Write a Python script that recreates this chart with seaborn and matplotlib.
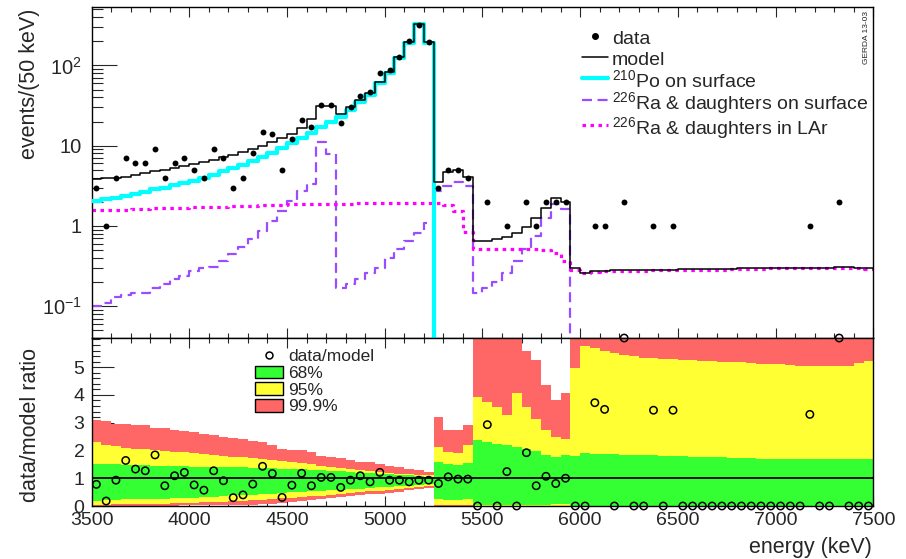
import numpy as np
import matplotlib
matplotlib.use('Agg')
import matplotlib.pyplot as plt
from matplotlib.lines import Line2D
from matplotlib.patches import Patch
from matplotlib.ticker import MultipleLocator, LogLocator, NullFormatter
import seaborn as sns

# 50 keV bins from 3500 to 7500 keV
edges = np.arange(3500, 7550, 50)
centers = edges[:-1] + 25

# events per bin (data)
data_counts = np.array([3, 1, 4, 7, 6, 6, 9, 4, 6, 7,
                        5, 4, 9, 7, 3, 4, 8, 15, 14, 5,
                        12, 21, 17, 32, 32, 19, 30, 42, 46, 80,
                        87, 127, 199, 320, 195, 3, 5, 5, 4, 0,
                        2, 0, 1, 0, 2, 1, 2, 2, 2, 0,
                        0, 1, 1, 0, 2, 0, 0, 1, 0, 1,
                        0, 0, 0, 0, 0, 0, 0, 0, 0, 0,
                        0, 0, 0, 1, 0, 0, 2, 0, 0, 0])

model = np.array([3.8, 3.9, 4.0, 4.1, 4.3, 4.5, 4.8, 5.0, 5.2, 5.5,
                  5.9, 6.2, 6.7, 7.2, 7.7, 8.3, 9.0, 10.0, 11.0, 12.3,
                  14.0, 16.5, 21.5, 31.6, 31.6, 25, 30, 37.6, 45.7, 63,
                  83, 127, 197, 330, 195, 3.55, 4.63, 4.97, 4.02, 0.64,
                  0.65, 0.68, 0.73, 0.82, 0.97, 1.27, 1.66, 2.22, 1.99, 0.30,
                  0.26, 0.27, 0.27, 0.28, 0.28, 0.28, 0.28, 0.285, 0.285, 0.285,
                  0.29, 0.29, 0.29, 0.29, 0.29, 0.29, 0.295, 0.295, 0.295, 0.3,
                  0.3, 0.3, 0.3, 0.3, 0.3, 0.3, 0.305, 0.305, 0.3, 0.295])

po_surface = np.array([2.05, 2.15, 2.25, 2.37, 2.5, 2.65, 2.85, 3.0, 3.2, 3.4,
                       3.65, 3.95, 4.3, 4.8, 5.3, 5.8, 6.5, 7.3, 8.2, 9.3,
                       10.8, 12.5, 14.5, 17, 20, 23, 28, 35, 43, 60,
                       80, 124, 193, 325, 192] + [0.0] * 45)

ra_surface = np.array([0.10, 0.11, 0.13, 0.137, 0.147, 0.147, 0.17, 0.187, 0.216, 0.237,
                       0.27, 0.30, 0.31, 0.365, 0.44, 0.54, 0.68, 0.87, 1.15, 1.54,
                       2.05, 2.74, 3.3, 11, 7.9, 0.17, 0.187, 0.22, 0.26, 0.30,
                       0.40, 0.51, 0.65, 0.82, 1.1, 2.74, 3.16, 3.55, 3.16, 0.147,
                       0.17, 0.2, 0.26, 0.365, 0.51, 0.75, 1.27, 1.87, 1.62] + [0.0] * 31)

ra_lar = np.array([1.57, 1.6, 1.6, 1.6, 1.62, 1.63, 1.65, 1.65, 1.67, 1.68,
                   1.7, 1.7, 1.72, 1.73, 1.75, 1.77, 1.78, 1.8, 1.82, 1.83,
                   1.85, 1.86, 1.87, 1.88, 1.89, 1.9, 1.9, 1.91, 1.92, 1.93,
                   1.93, 1.94, 1.94, 1.95, 1.95, 1.95, 1.83, 1.54, 0.85, 0.51,
                   0.51, 0.51, 0.51, 0.51, 0.51, 0.51, 0.5, 0.46, 0.37, 0.28,
                   0.26, 0.265, 0.27, 0.27, 0.275, 0.275, 0.275, 0.28, 0.28, 0.28,
                   0.28, 0.285, 0.285, 0.285, 0.285, 0.29, 0.29, 0.29, 0.29, 0.295,
                   0.295, 0.295, 0.295, 0.295, 0.3, 0.3, 0.3, 0.3, 0.295, 0.29])

# data/model ratio (points above 6 sit on the frame edge)
ratio = np.array([0.78, 0.18, 0.93, 1.64, 1.33, 1.27, 1.84, 0.73, 1.09, 1.21,
                  0.76, 0.57, 1.27, 0.91, 0.30, 0.40, 0.79, 1.43, 1.17, 0.31,
                  0.75, 1.18, 0.73, 1.03, 1.03, 0.67, 0.93, 1.09, 0.87, 1.21,
                  0.93, 0.93, 0.87, 0.93, 0.93, 0.81, 1.05, 0.97, 0.97, 0,
                  2.93, 0, 1.24, 0, 1.92, 0.73, 1.07, 0.81, 1.0, 0,
                  0, 3.72, 3.48, 0, 6.05, 0, 0, 3.45, 0, 3.45,
                  0, 0, 0, 0, 0, 0, 0, 0, 0, 0,
                  0, 0, 0, 3.3, 0, 0, 6.05, 0, 0, 0])

# probability bands for the ratio
red_hi = np.array([3.1, 3.05, 2.95, 2.95, 2.9, 2.9, 2.8, 2.8, 2.75, 2.7,
                   2.65, 2.6, 2.55, 2.5, 2.45, 2.4, 2.35, 2.3, 2.2, 2.06,
                   2.02, 2.0, 1.95, 1.8, 1.76, 1.72, 1.65, 1.6, 1.58, 1.52,
                   1.45, 1.4, 1.35, 1.28, 1.22,
                   3.2, 2.75, 2.75, 2.9,
                   6.2, 6.2, 6.2, 6.2, 6.2, 5.58, 5.27, 4.36, 3.82, 4.06] + [6.2] * 31)
yel_hi = np.array([2.3, 2.2, 2.15, 2.1, 2.07, 2.05, 2.0, 1.98, 1.95, 1.93,
                   1.9, 1.87, 1.84, 1.8, 1.77, 1.75, 1.72, 1.68, 1.65, 1.63,
                   1.6, 1.55, 1.5, 1.45, 1.42, 1.38, 1.35, 1.3, 1.27, 1.24,
                   1.2, 1.17, 1.15, 1.12, 1.1,
                   2.12, 1.95, 1.9, 2.2,
                   3.94, 3.76, 3.55, 3.27, 4.06, 3.55, 3.15, 2.73, 2.48, 2.4,
                   4.97, 5.78, 5.7, 5.58, 5.52, 5.45, 5.42, 5.33, 5.33, 5.3,
                   5.3, 5.27, 5.27, 5.24, 5.24, 5.2, 5.2, 5.18, 5.15, 5.12,
                   5.1, 5.1, 5.09, 5.06, 5.03, 5.03, 5.03, 5.03, 5.06, 5.15, 5.21])
grn_hi = np.array([1.52, 1.5, 1.5, 1.48, 1.47, 1.46, 1.45, 1.45, 1.44, 1.43,
                   1.42, 1.42, 1.41, 1.4, 1.4, 1.39, 1.38, 1.37, 1.36, 1.35,
                   1.34, 1.32, 1.3, 1.28, 1.27, 1.25, 1.23, 1.2, 1.18, 1.16,
                   1.14, 1.12, 1.1, 1.08, 1.06,
                   1.58, 1.52, 1.48, 1.55,
                   2.36, 2.3, 2.24, 2.18, 2.12, 2.06, 1.97, 1.85, 1.76, 1.85,
                   1.8, 1.9, 1.88, 1.87, 1.86, 1.85, 1.84, 1.83, 1.82, 1.81,
                   1.8, 1.79, 1.78, 1.77, 1.76, 1.75, 1.74, 1.73, 1.72, 1.71,
                   1.71, 1.7, 1.7, 1.7, 1.7, 1.7, 1.7, 1.7, 1.7, 1.7, 1.7])
grn_lo = np.array([0.18, 0.2, 0.22, 0.24, 0.24, 0.25, 0.26, 0.27, 0.28, 0.29,
                   0.3, 0.32, 0.34, 0.36, 0.38, 0.39, 0.4, 0.42, 0.45, 0.48,
                   0.5, 0.52, 0.54, 0.55, 0.57, 0.59, 0.61, 0.63, 0.65, 0.67,
                   0.69, 0.71, 0.73, 0.76, 0.79,
                   0.24, 0.2, 0.2, 0.24,
                   0.02, 0.02, 0.02, 0.02, 0.02, 0.02, 0.02, 0.02, 0.06, 0.06] + [0.0] * 31)
yel_lo = np.array([0.05, 0.05, 0.06, 0.06, 0.07, 0.07, 0.08, 0.09, 0.1, 0.11,
                   0.12, 0.13, 0.14, 0.15, 0.17, 0.18, 0.2, 0.22, 0.24, 0.28,
                   0.3, 0.33, 0.35, 0.37, 0.4, 0.44, 0.48, 0.5, 0.53, 0.55,
                   0.58, 0.61, 0.64, 0.67, 0.72,
                   0.03, 0.02, 0.02, 0.03] + [0.0] * 41)
red_lo = np.array([0, 0, 0, 0, 0, 0, 0, 0, 0, 0.02,
                   0.02, 0.03, 0.03, 0.03, 0.04, 0.04, 0.05, 0.06, 0.08, 0.12,
                   0.15, 0.18, 0.21, 0.24, 0.28, 0.32, 0.36, 0.39, 0.42, 0.45,
                   0.48, 0.52, 0.56, 0.6, 0.65] + [0.0] * 45)

c_po = '#00ffff'
c_rasurf = '#9a4dff'
c_lar = '#ff00ff'
c_green = '#33ff33'
c_yellow = '#ffff33'
c_red = '#ff6666'

sns.set_style('ticks')
plt.rcParams['font.family'] = ['Liberation Sans', 'DejaVu Sans']
plt.rcParams['mathtext.fontset'] = 'custom'
plt.rcParams['mathtext.rm'] = 'Liberation Sans'
plt.rcParams['mathtext.it'] = 'Liberation Sans:italic'
plt.rcParams['mathtext.bf'] = 'Liberation Sans:bold'
plt.rcParams['mathtext.default'] = 'regular'
plt.rcParams['axes.linewidth'] = 1.0
plt.rcParams['axes.edgecolor'] = 'black'


def ext(v):
    return np.append(v, v[-1])


def stepline(ax, vals, **kw):
    sns.lineplot(x=edges, y=ext(vals), drawstyle='steps-post', estimator=None,
                 errorbar=None, sort=False, legend=False, ax=ax, **kw)


fig = plt.figure(figsize=(9.06, 5.59), dpi=100)
ax1 = fig.add_axes([0.101, 0.3953, 0.863, 0.5916])
ax2 = fig.add_axes([0.101, 0.0948, 0.863, 0.3005])

# ---- top panel: spectrum
stepline(ax1, ra_surface, color=c_rasurf, lw=1.6, linestyle=(0, (4.5, 2.5)), zorder=2)
stepline(ax1, ra_lar, color=c_lar, lw=2.3, linestyle=(0, (1.1, 1.4)), zorder=2)
stepline(ax1, po_surface, color=c_po, lw=3.0, zorder=3)
stepline(ax1, model, color='black', lw=1.1, zorder=4)
has_data = data_counts > 0
sns.scatterplot(x=centers[has_data], y=data_counts[has_data], color='black', s=18,
                linewidth=0, ax=ax1, zorder=5, legend=False)

ax1.set_yscale('log')
ax1.set_xlim(3500, 7500)
ax1.set_ylim(0.04, 530)
ax1.set_yticks([0.1, 1, 10, 100], labels=['$10^{-1}$', '1', '10', '$10^{2}$'])
ax1.yaxis.set_minor_locator(LogLocator(base=10, subs=np.arange(2, 10)))
ax1.yaxis.set_minor_formatter(NullFormatter())
ax1.set_xticks(np.arange(3500, 7501, 500))
ax1.xaxis.set_minor_locator(MultipleLocator(100))
ax1.tick_params(axis='y', which='major', direction='in', length=18, width=0.8,
                labelsize=14.5, pad=7, right=False)
ax1.tick_params(axis='y', which='minor', direction='in', length=8, width=0.8, right=False)
ax1.tick_params(axis='x', which='major', direction='in', length=7, width=0.8,
                top=True, bottom=True, labelbottom=False)
ax1.tick_params(axis='x', which='minor', direction='in', length=3.5, width=0.8,
                top=True, bottom=True)
ax1.set_xlabel('')
ax1.set_ylabel('')

top_handles = [
    Line2D([], [], marker='o', color='black', ls='none', markersize=4),
    Line2D([], [], color='black', lw=1.1),
    Line2D([], [], color=c_po, lw=3.0),
    Line2D([], [], color=c_rasurf, lw=1.6, linestyle=(0, (4.5, 2.5))),
    Line2D([], [], color=c_lar, lw=2.3, linestyle=(0, (1.1, 1.4))),
]
top_labels = ['data', 'model', '$^{210}$Po on surface',
              '$^{226}$Ra & daughters on surface', '$^{226}$Ra & daughters in LAr']
ax1.legend(top_handles, top_labels, loc='upper left', bbox_to_anchor=(582 / 906, 1 - 27 / 559),
           bbox_transform=fig.transFigure, frameon=False, fontsize=14, borderpad=0,
           borderaxespad=0, handlelength=1.35, handleheight=1.35, handletextpad=0.2,
           labelspacing=-0.05)

# ---- bottom panel: ratio with bands
ax2.fill_between(edges, ext(red_lo), ext(red_hi), step='post', color=c_red, lw=0, zorder=1)
ax2.fill_between(edges, ext(yel_lo), ext(yel_hi), step='post', color=c_yellow, lw=0, zorder=1)
ax2.fill_between(edges, ext(grn_lo), ext(grn_hi), step='post', color=c_green, lw=0, zorder=1)
ax2.axhline(1, color='black', lw=1.3, zorder=3)
sns.scatterplot(x=centers, y=ratio, marker='o', s=28, edgecolor='black', linewidth=1.1,
                ax=ax2, zorder=5, clip_on=False, legend=False)
ax2.collections[-1].set_facecolor('none')

ax2.set_xlim(3500, 7500)
ax2.set_ylim(0, 6.05)
ax2.set_xticks(np.arange(3500, 7501, 500))
ax2.xaxis.set_minor_locator(MultipleLocator(100))
ax2.set_yticks([0, 1, 2, 3, 4, 5])
ax2.yaxis.set_minor_locator(MultipleLocator(0.2))
ax2.tick_params(axis='y', which='major', direction='in', length=16, width=0.8,
                labelsize=14, pad=5, right=False)
ax2.tick_params(axis='y', which='minor', direction='in', length=6, width=0.8, right=False)
ax2.tick_params(axis='x', which='major', direction='in', length=7, width=0.8,
                top=True, bottom=True, labelsize=14, pad=4)
ax2.tick_params(axis='x', which='minor', direction='in', length=3.5, width=0.8,
                top=True, bottom=True)
ax2.set_xlabel('')
ax2.set_ylabel('')

bot_handles = [
    Line2D([], [], marker='o', ls='none', markerfacecolor='none', markeredgecolor='black',
           markeredgewidth=1.1, markersize=5),
    Patch(facecolor=c_green, edgecolor='black', lw=1),
    Patch(facecolor=c_yellow, edgecolor='black', lw=1),
    Patch(facecolor=c_red, edgecolor='black', lw=1),
]
ax2.legend(bot_handles, ['data/model', '68%', '95%', '99.9%'], loc='upper left',
           bbox_to_anchor=(255 / 906, 1 - 349 / 559), bbox_transform=fig.transFigure,
           frameon=False, fontsize=12.5, borderpad=0, borderaxespad=0, handlelength=1.6,
           handleheight=0.75, handletextpad=0.3, labelspacing=0.07)

# axis titles
fig.text(30 / 906, 1 - 9 / 559, 'events/(50 keV)', rotation=90, ha='center', va='top', fontsize=15.5)
fig.text(30 / 906, 1 - 425 / 559, 'data/model ratio', rotation=90, ha='center', va='center',
         fontsize=15.5)
fig.text(872 / 906, 1 - 547 / 559, 'energy (keV)', ha='right', va='center', fontsize=15.5)
fig.text(866 / 906, 1 - 38 / 559, 'GERDA 13-03', rotation=90, ha='center', va='center', fontsize=6)

fig.savefig('out.png', dpi=100)
